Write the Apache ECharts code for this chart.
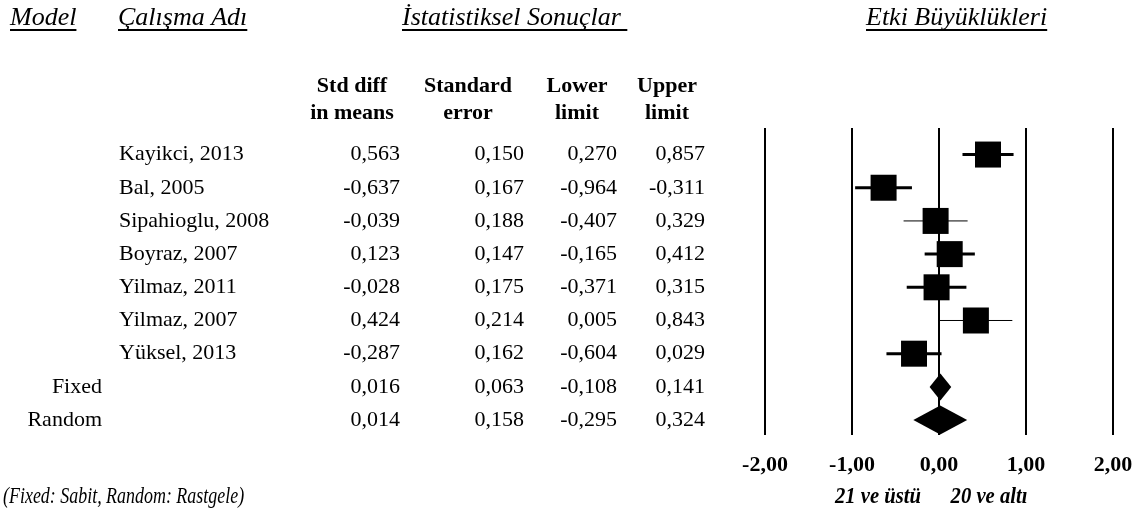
<!DOCTYPE html>
<html><head><meta charset="utf-8">
<script src="https://cdn.jsdelivr.net/npm/echarts@6/dist/echarts.min.js"></script>
<style>html,body{margin:0;padding:0;background:#fff}#c{width:1143px;height:532px}</style>
</head><body><div id="c"></div>
<script>
// ---------- data ----------
const studies = ['Kayikci, 2013', 'Bal, 2005', 'Sipahioglu, 2008', 'Boyraz, 2007', 'Yilmaz, 2011', 'Yilmaz, 2007', 'Yüksel, 2013'];
const summaryModels = ['Fixed', 'Random'];
const stdDiff    = [0.563, -0.637, -0.039, 0.123, -0.028, 0.424, -0.287, 0.016, 0.014];
const stdErr     = [0.150, 0.167, 0.188, 0.147, 0.175, 0.214, 0.162, 0.063, 0.158];
const lowerLimit = [0.270, -0.964, -0.407, -0.165, -0.371, 0.005, -0.604, -0.108, -0.295];
const upperLimit = [0.857, -0.311, 0.329, 0.412, 0.315, 0.843, 0.029, 0.141, 0.324];
const headerTitles = ['Model', 'Çalışma Adı', 'İstatistiksel Sonuçlar ', 'Etki Büyüklükleri'];
const columnHeaders = [['Std diff', 'in means'], ['Standard', 'error'], ['Lower', 'limit'], ['Upper', 'limit']];
const xTicks = [-2, -1, 0, 1, 2];
const footnote = '(Fixed: Sabit, Random: Rastgele)';
const directionLabels = ['21 ve üstü', '20 ve altı'];

// ---------- styling / layout ----------
const SERIF = '"Liberation Serif","Times New Roman",serif';
const whiskerWidth = [3, 3, 1, 3, 3, 1, 3];
const squareSize = 26;
const diamondHalfH = [13.5, 14.5];
const titleX = [10, 118, 402, 866];
const colRight = [400, 524, 617, 705];
const colHeaderCenter = [352, 468, 577, 667];
const directionCenter = [878, 989];

const fmt3 = v => v.toFixed(3).replace('.', ',');
const fmt2 = v => v.toFixed(2).replace('.', ',');

const nStudies = studies.length;
const rows = stdDiff.map((v, i) => [i, v, lowerLimit[i], upperLimit[i], i < nStudies ? 0 : (i - nStudies + 1)]);

const chart = echarts.init(document.getElementById('c'), null, { renderer: 'canvas' });

chart.setOption({
  animation: false,
  backgroundColor: '#fff',
  grid: { left: 765, right: 30, top: 128, bottom: 97, containLabel: false },
  xAxis: {
    type: 'value', min: xTicks[0], max: xTicks[xTicks.length - 1], interval: 1,
    axisLine: { show: false }, axisTick: { show: false },
    splitLine: { show: true, lineStyle: { color: '#000', width: 2 } },
    axisLabel: {
      show: true, margin: 19, showMinLabel: true, showMaxLabel: true,
      fontFamily: SERIF, fontWeight: 'bold', fontSize: 22, color: '#000',
      formatter: v => fmt2(v)
    }
  },
  yAxis: {
    type: 'value', min: -0.8, max: 8.45, inverse: true, show: false,
    splitLine: { show: false }
  },
  series: [{
    type: 'custom',
    data: rows,
    renderItem: function (params, api) {
      const i = api.value(0), est = api.value(1), lo = api.value(2), hi = api.value(3), kind = api.value(4);
      const c = api.coord([est, i]), l = api.coord([lo, i]), h = api.coord([hi, i]);
      if (kind === 0) {
        const s = squareSize;
        return {
          type: 'group', children: [
            { type: 'line', shape: { x1: l[0], y1: c[1], x2: h[0], y2: c[1] }, style: { stroke: '#000', lineWidth: whiskerWidth[i] } },
            { type: 'rect', shape: { x: c[0] - s / 2, y: c[1] - s / 2, width: s, height: s }, style: { fill: '#000' } }
          ]
        };
      }
      const hh = diamondHalfH[kind - 1];
      return {
        type: 'polygon',
        shape: { points: [[l[0], c[1]], [c[0], c[1] - hh], [h[0], c[1]], [c[0], c[1] + hh]] },
        style: { fill: '#000' }
      };
    }
  }]
});

// ---------- table & annotations as graphic text ----------
const ctx = document.createElement('canvas').getContext('2d');
function textW(font, t) { ctx.font = font; return ctx.measureText(t).width; }
function txt(x, y, text, font, align, fill, sx) {
  return { type: 'text', x: x, y: y, silent: true, scaleX: sx || 1, originX: 0, originY: 0,
    style: { text: text, font: font, fill: fill || '#000', align: align, textAlign: align, verticalAlign: 'middle', textVerticalAlign: 'middle' } };
}
const rowY = i => chart.convertToPixel({ gridIndex: 0 }, [0, i])[1];

const els = [];
const titleFont = 'italic 26px ' + SERIF;
headerTitles.forEach((t, k) => {
  els.push(txt(titleX[k], 18, t, titleFont, 'left'));
  const w = textW(titleFont, t);
  els.push({ type: 'line', silent: true, shape: { x1: titleX[k], y1: 30, x2: titleX[k] + w, y2: 30 }, style: { stroke: '#000', lineWidth: 2 } });
});
const headFont = 'bold 22px ' + SERIF;
columnHeaders.forEach((pair, k) => {
  els.push(txt(colHeaderCenter[k], 86, pair[0], headFont, 'center'));
  els.push(txt(colHeaderCenter[k], 113, pair[1], headFont, 'center'));
});
const bodyFont = '22px ' + SERIF;
studies.forEach((s, i) => els.push(txt(119, rowY(i), s, bodyFont, 'left')));
summaryModels.forEach((s, k) => els.push(txt(102, rowY(nStudies + k), s, bodyFont, 'right')));
[stdDiff, stdErr, lowerLimit, upperLimit].forEach((col, k) => {
  col.forEach((v, i) => els.push(txt(colRight[k], rowY(i), fmt3(v), bodyFont, 'right')));
});
els.push(txt(3, 497, footnote, 'italic 23px ' + SERIF, 'left', '#000', 0.78));
directionLabels.forEach((t, k) => els.push(txt(directionCenter[k], 497, t, 'italic bold 24px ' + SERIF, 'center', '#000', 0.86)));

chart.setOption({ graphic: { elements: els } });
</script>
</body></html>
